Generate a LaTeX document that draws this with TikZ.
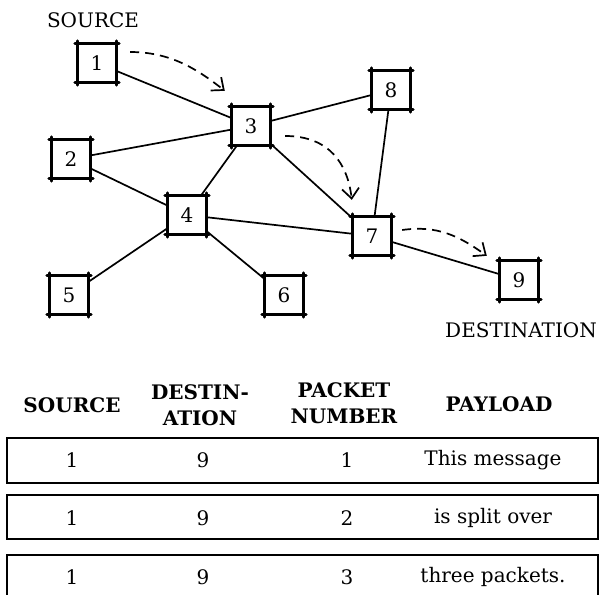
\documentclass[tikz,border=0pt]{standalone}
\usepackage{fontspec}
\setmainfont{DejaVu Serif}
\usetikzlibrary{arrows.meta}
\begin{document}
\begin{tikzpicture}[x=1pt,y=-1pt,
  txt/.style={font=\fontsize{20}{24}\selectfont},
  netnode/.style={txt, minimum size=38pt, inner sep=0pt},
  sketch/.style={line width=2.8pt, line cap=round},
  link/.style={line width=1.7pt},
  hop/.style={line width=1.7pt, dash pattern=on 9pt off 6pt,
    -{Straight Barb[length=10pt,width=17pt,line width=1.7pt]}},
  head/.style={font=\bfseries\fontsize{20}{26}\selectfont, align=center},
  rowbox/.style={draw, line width=1.8pt, minimum width=591pt, inner sep=0pt},
]
\useasboundingbox (0,0) rectangle (602,594);

% network routers
\node[netnode] (n1) at (97,63)  {1};
\node[netnode] (n2) at (71,159) {2};
\node[netnode] (n3) at (251,126) {3};
\node[netnode] (n4) at (187,215) {4};
\node[netnode] (n5) at (69,295) {5};
\node[netnode] (n6) at (284,295) {6};
\node[netnode] (n7) at (372,236) {7};
\node[netnode] (n8) at (391,90) {8};
\node[netnode] (n9) at (519,280) {9};

% hand-drawn frames: each edge runs a little past the corners
\foreach \i in {1,...,9} {
  \draw[sketch] ([xshift=-3pt]n\i.north west) -- ([xshift=3pt]n\i.north east);
  \draw[sketch] ([xshift=-3pt]n\i.south west) -- ([xshift=3pt]n\i.south east);
  \draw[sketch] ([yshift=3pt]n\i.north west) -- ([yshift=-3pt]n\i.south west);
  \draw[sketch] ([yshift=3pt]n\i.north east) -- ([yshift=-3pt]n\i.south east);
}

% links
\draw[link] (n1) -- (n3);
\draw[link] (n2) -- (n3);
\draw[link] (n3) -- (n8);
\draw[link] (n3) -- (n4);
\draw[link] (n3) -- (n7);
\draw[link] (n2) -- (n4);
\draw[link] (n4) -- (n7);
\draw[link] (n4) -- (n5);
\draw[link] (n4) -- (n6);
\draw[link] (n8) -- (n7);
\draw[link] (n7) -- (n9);

% packet route
\draw[hop] ([shift={(14,-11)}]n1.east) .. controls +(40,0) and +(-28,-22) .. ([shift={(-7,-16)}]n3.north west);
\draw[hop] ([shift={(15,10)}]n3.east) .. controls +(45,0) and +(-4,-35) .. ([shift={(-1,-17)}]n7.north west);
\draw[hop] ([shift={(11,-6)}]n7.east) .. controls +(35,-5) and +(-28,-20) .. ([shift={(-13,-5)}]n9.north west);

\node[txt] (src) at (93,20) {SOURCE};
\node[txt] (dst) at (521,330) {DESTINATION};

% packet table
\node[head] (hsrc) at (72,405) {SOURCE};
\node[head] (hdst) at (200,405) {DESTIN-\\ATION};
\node[head] (hpkt) at (344,403) {PACKET\\NUMBER};
\node[head] (hpay) at (499,404) {PAYLOAD};

\node[rowbox, minimum height=45pt] (r1) at (302.5,460.5) {};
\node[rowbox, minimum height=44pt] (r2) at (302.5,517) {};
\node[rowbox, minimum height=44pt] (r3) at (302.5,577) {};

\foreach \r/\y/\p/\msg in {1/460/1/This message, 2/518/2/is split over, 3/577/3/three packets.} {
  \node[txt] (s\r) at (72,\y) {1};
  \node[txt] (d\r) at (203,\y) {9};
  \node[txt] (p\r) at (347,\y) {\p};
  \node[txt] (m\r) at (493,\y) {\msg};
}
\end{tikzpicture}
\end{document}
